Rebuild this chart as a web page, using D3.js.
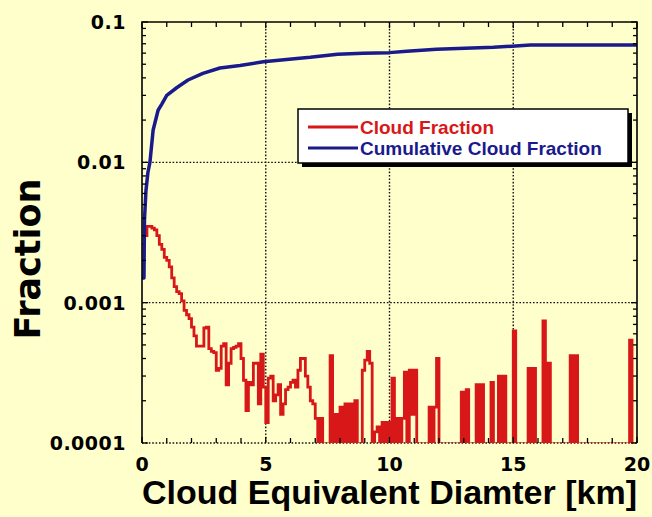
<!DOCTYPE html>
<html>
<head>
<meta charset="utf-8">
<script src="https://cdn.jsdelivr.net/npm/d3@7"></script>
<style>
body { margin: 0; background: #ffffcc; }
svg { display: block; }
</style>
</head>
<body>
<div id="chart"></div>
<script>
// cloud fraction per 0.1 km size bin, 0 - 20 km (0 = empty bin)
const cloudFraction = [
    0.0026, 0.0030, 0.0035, 0.0035, 0.0034, 0.0033, 0.0030, 0.0026, 0.0024, 0.0021,
    0.0020, 0.0018, 0.0015, 0.0013, 0.0012, 0.00116, 0.00103, 0.00088, 0.00082, 0.00077,
    0.00067, 0.00058, 0.00049, 0.00049, 0.00049, 0.00066, 0.00067, 0.00047, 0.00045, 0.00044,
    0.00033, 0.00034, 0.00049, 0.00051, 0.00026, 0.00037, 0.00047, 0.00048, 0.00049, 0.00051,
    0.00040, 0.00028, 0.00017, 0.00027, 0.00026, 0.00037, 0.00037, 0.00019, 0.00043, 0.00025,
    0.00014, 0.00029, 0.00030, 0.00020, 0.00022, 0.00026, 0.00016, 0.00019, 0.00024, 0.00025,
    0.00027, 0.00028, 0.00025, 0.00033, 0.00040, 0.00040, 0.00030, 0.00025, 0.00020, 0.00019,
    0.00015, 0, 0.00015, 0, 0, 0, 0.00042, 0, 0.00016, 0,
    0.00018, 0, 0.00019, 0, 0.00019, 0, 0.00020, 0, 0, 0.00033,
    0.00039, 0.00045, 0.00037, 0, 0.00012, 0.00013, 0, 0.00014, 0, 0.00014,
    0, 0.00029, 0, 0.00015, 0, 0.00015, 0.00032, 0, 0.00033, 0.00016,
    0.00033, 0, 0, 0, 0, 0, 0.00018, 0, 0.00018, 0.00040,
    0, 0, 0, 0, 0, 0, 0, 0, 0, 0.00023,
    0, 0.00024, 0, 0, 0, 0.00026, 0, 0.00026, 0, 0,
    0, 0.00027, 0, 0, 0.00030, 0, 0.00030, 0, 0, 0,
    0.00063, 0, 0, 0, 0, 0, 0.00034, 0, 0.00034, 0,
    0, 0, 0.00074, 0, 0.00037, 0, 0, 0, 0, 0,
    0, 0, 0, 0.00042, 0, 0.00042, 0, 0, 0, 0,
    0, 0, 0, 0, 0, 0, 0, 0, 0, 0,
    0, 0, 0, 0, 0, 0, 0, 0.00054, 0, 0
];
const binWidth = 0.1;

// cumulative cloud fraction
const cumDiameter = [0, 0.08, 0.1, 0.16, 0.24, 0.32, 0.45, 0.65, 0.8, 1.0, 1.4, 1.86, 2.46, 3.15,
    3.96, 4.9, 6.26, 6.8, 7.9, 8.93, 10.0, 10.7, 11.9, 14.2, 15.7, 20];
const cumFraction = [0.0015, 0.0015, 0.0039, 0.0063, 0.0085, 0.01, 0.017, 0.0235, 0.026, 0.030, 0.034, 0.0386, 0.043, 0.047,
    0.049, 0.052, 0.055, 0.056, 0.059, 0.060, 0.0605, 0.062, 0.064, 0.066, 0.0685, 0.0685];

const xTicks = [0, 5, 10, 15, 20];
const yTicks = [0.0001, 0.001, 0.01, 0.1];
const yTickLabels = ["0.0001", "0.001", "0.01", "0.1"];
const seriesNames = ["Cloud Fraction", "Cumulative Cloud Fraction"];
const seriesColors = ["#d81818", "#1a1a8c"];

const W = 652, H = 517;
const margin = { top: 22, right: 15, bottom: 74, left: 142 };
const width = W - margin.left - margin.right;
const height = H - margin.top - margin.bottom;

const svg = d3.select("#chart").append("svg")
    .attr("width", W)
    .attr("height", H);

svg.append("rect").attr("width", W).attr("height", H).attr("fill", "#ffffcc");

const g = svg.append("g")
    .attr("transform", "translate(" + margin.left + "," + margin.top + ")");

const x = d3.scaleLinear().domain([0, 20]).range([0, width]);
const y = d3.scaleLog().domain([0.0001, 0.1]).range([height, 0]);

g.append("clipPath").attr("id", "clip")
    .append("rect").attr("x", -2).attr("y", -2).attr("width", width + 4).attr("height", height + 2);

// dotted grid
const grid = g.append("g").attr("stroke", "#111").attr("stroke-width", 1.4).attr("stroke-dasharray", "1.6,1.8");
xTicks.slice(1, -1).forEach(t => {
    grid.append("line").attr("x1", x(t)).attr("x2", x(t)).attr("y1", 0).attr("y2", height);
});
yTicks.slice(1, -1).forEach(t => {
    grid.append("line").attr("x1", 0).attr("x2", width).attr("y1", y(t)).attr("y2", y(t));
});
grid.append("line").attr("x1", 0).attr("x2", width).attr("y1", height).attr("y2", height);

// cloud fraction histogram (step line)
const redPts = cloudFraction.map((v, i) => [i * binWidth, v]);
redPts.push([20, cloudFraction[cloudFraction.length - 1]]);
const stepLine = d3.line()
    .x(d => x(d[0]))
    .y(d => d[1] > 0 ? y(d[1]) : height + 1)
    .curve(d3.curveStepAfter);

g.append("path")
    .attr("clip-path", "url(#clip)")
    .attr("d", stepLine(redPts))
    .attr("fill", "none")
    .attr("stroke", seriesColors[0])
    .attr("stroke-width", 2.8);

// cumulative
const cumLine = d3.line()
    .x((d, i) => x(cumDiameter[i]))
    .y(d => y(d));

g.append("path")
    .attr("d", cumLine(cumFraction))
    .attr("fill", "none")
    .attr("stroke", seriesColors[1])
    .attr("stroke-width", 3.5)
    .attr("stroke-linejoin", "round");

// frame: left, top, right solid
const frame = g.append("g").attr("stroke", "#000").attr("stroke-width", 1.6).attr("fill", "none");
frame.append("path").attr("d", "M0," + height + "V0H" + width + "V" + height);

// inside ticks
const tk = g.append("g").attr("stroke", "#000").attr("stroke-width", 1.3);
d3.range(0, 21, 1).forEach(t => {
    const len = t % 5 === 0 ? 6 : 5;
    tk.append("line").attr("x1", x(t)).attr("x2", x(t)).attr("y1", 0).attr("y2", len);
    tk.append("line").attr("x1", x(t)).attr("x2", x(t)).attr("y1", height).attr("y2", height - len);
});
y.ticks().forEach(t => {
    const len = yTicks.includes(t) ? 6 : 4;
    tk.append("line").attr("x1", 0).attr("x2", len).attr("y1", y(t)).attr("y2", y(t));
    tk.append("line").attr("x1", width).attr("x2", width - len).attr("y1", y(t)).attr("y2", y(t));
});

// tick labels
const labelFont = "'DejaVu Sans', sans-serif";
yTicks.forEach((t, i) => {
    g.append("text")
        .attr("x", -16)
        .attr("y", y(t))
        .attr("dy", "0.36em")
        .attr("text-anchor", "end")
        .style("font-family", labelFont)
        .style("font-weight", "bold")
        .style("font-size", "19px")
        .style("letter-spacing", "0.5px")
        .text(yTickLabels[i]);
});
xTicks.forEach(t => {
    g.append("text")
        .attr("x", x(t))
        .attr("y", height + 28)
        .attr("text-anchor", "middle")
        .style("font-family", labelFont)
        .style("font-weight", "bold")
        .style("font-size", "19px")
        .text(t);
});

// axis titles
svg.append("text")
    .attr("x", margin.left + width / 2)
    .attr("y", 504)
    .attr("text-anchor", "middle")
    .style("font-family", "'Liberation Sans', Arial, sans-serif")
    .style("font-weight", "bold")
    .style("font-size", "34px")
    .text("Cloud Equivalent Diamter [km]");

svg.append("text")
    .attr("transform", "translate(40,259) rotate(-90)")
    .attr("text-anchor", "middle")
    .style("font-family", labelFont)
    .style("font-weight", "bold")
    .style("font-size", "35px")
    .text("Fraction");

// legend
const lg = svg.append("g").attr("transform", "translate(298,109)");
lg.append("rect").attr("x", 4).attr("y", 4).attr("width", 330).attr("height", 54).attr("fill", "#000");
lg.append("rect").attr("width", 330).attr("height", 54).attr("fill", "#fff").attr("stroke", "#000").attr("stroke-width", 1.5);
seriesNames.forEach((name, i) => {
    const cy = 18 + i * 21;
    lg.append("line").attr("x1", 10).attr("x2", 60).attr("y1", cy).attr("y2", cy)
        .attr("stroke", seriesColors[i]).attr("stroke-width", 3);
    lg.append("text")
        .attr("x", 62)
        .attr("y", cy)
        .attr("dy", "0.36em")
        .attr("fill", seriesColors[i])
        .style("font-family", "'Liberation Sans', Arial, sans-serif")
        .style("font-weight", "bold")
        .style("font-size", "19px")
        .text(name);
});
</script>
</body>
</html>
